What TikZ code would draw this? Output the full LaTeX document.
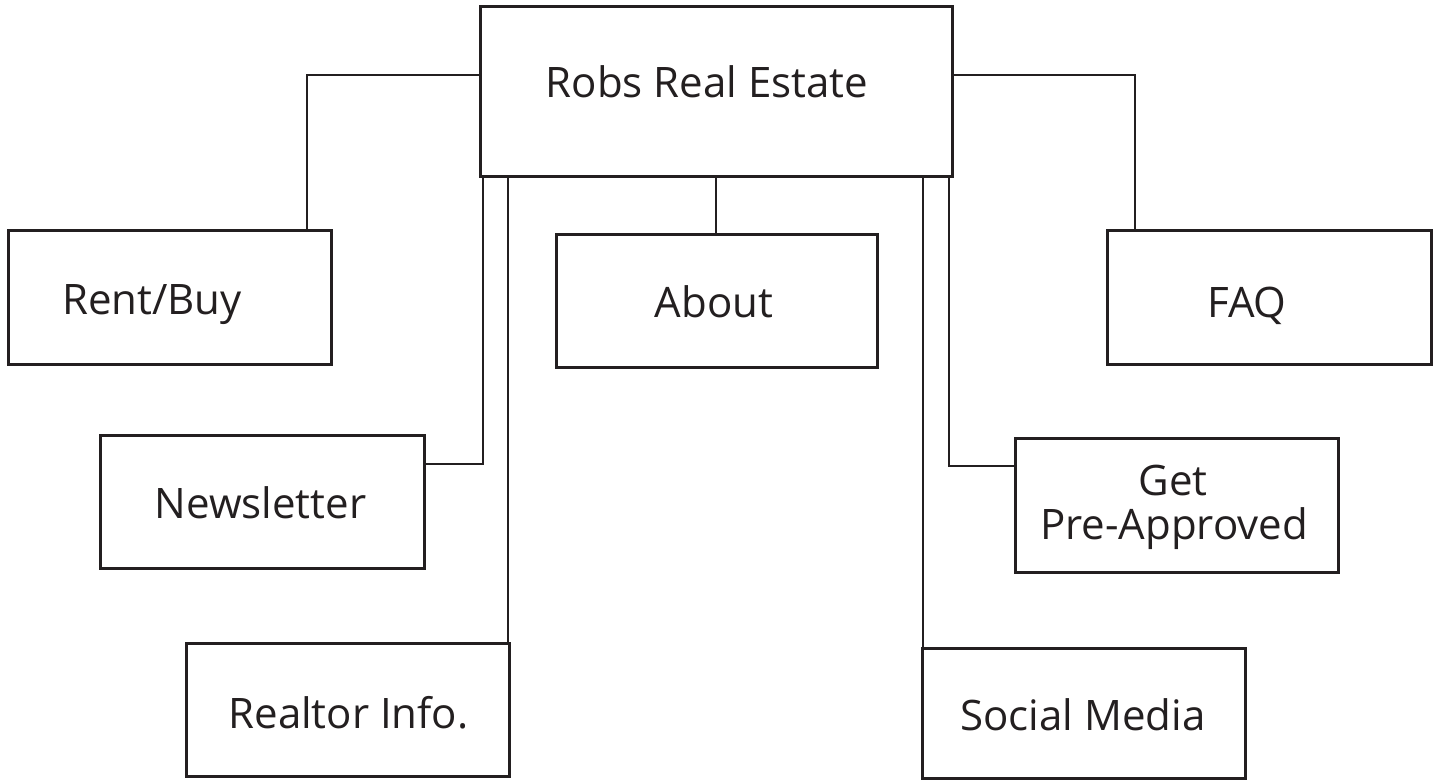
\documentclass[tikz,border=0pt]{standalone}
\usepackage{fontspec}
\setmainfont{Open Sans}
\definecolor{ink}{HTML}{231F20}
\begin{document}
\begin{tikzpicture}[x=1pt,y=-1pt,
  box/.style={draw=ink,line width=3pt,rectangle,inner sep=0pt,outer sep=0pt},
  lbl/.style={anchor=base,inner sep=0pt,text=ink,font=\fontsize{42}{50}\selectfont},
  conn/.style={draw=ink,line width=2pt}]
\useasboundingbox[fill=white] (0,0) rectangle (1439,782);
% boxes
\node[box,minimum width=472pt,minimum height=170pt] (top) at (716,91) {};
\node[box,minimum width=323pt,minimum height=134pt] (rent) at (169.5,297) {};
\node[box,minimum width=321pt,minimum height=133pt] (about) at (716.5,300.5) {};
\node[box,minimum width=324pt,minimum height=134pt] (faq) at (1269,297) {};
\node[box,minimum width=324pt,minimum height=133pt] (news) at (262,501.5) {};
\node[box,minimum width=323pt,minimum height=134pt] (pre) at (1176.5,505) {};
\node[box,minimum width=323pt,minimum height=133pt] (realtor) at (347.5,709.5) {};
\node[box,minimum width=323pt,minimum height=130pt] (social) at (1083.5,713) {};
% labels
\node[lbl] (ltop) at (707,97) {Robs Real Estate};
\node[lbl] (lrent) at (152,314) {Rent/Buy};
\node[lbl] (labout) at (714,317) {About};
\node[lbl] (lfaq) at (1247,317) {FAQ};
\node[lbl] (lnews) at (260.5,518) {Newsletter};
\node[lbl] (lget) at (1173,495) {Get};
\node[lbl] (lpre) at (1174,539) {Pre-Approved};
\node[lbl] (lrealtor) at (348.5,728) {Realtor Info.};
\node[lbl] (lsocial) at (1083,730) {Social Media};
% connectors
\draw[conn] (top.west |- 0,75) -| (307,0 |- rent.north);
\draw[conn] (top.east |- 0,75) -| (1135,0 |- faq.north);
\draw[conn] (716,0 |- top.south) -- (716,0 |- about.north);
\draw[conn] (483,0 |- top.south) |- (news.east |- 0,464);
\draw[conn] (508,0 |- top.south) -- (508,0 |- realtor.north);
\draw[conn] (923,0 |- top.south) -- (923,0 |- social.north);
\draw[conn] (949,0 |- top.south) |- (pre.west |- 0,466);
\end{tikzpicture}
\end{document}
